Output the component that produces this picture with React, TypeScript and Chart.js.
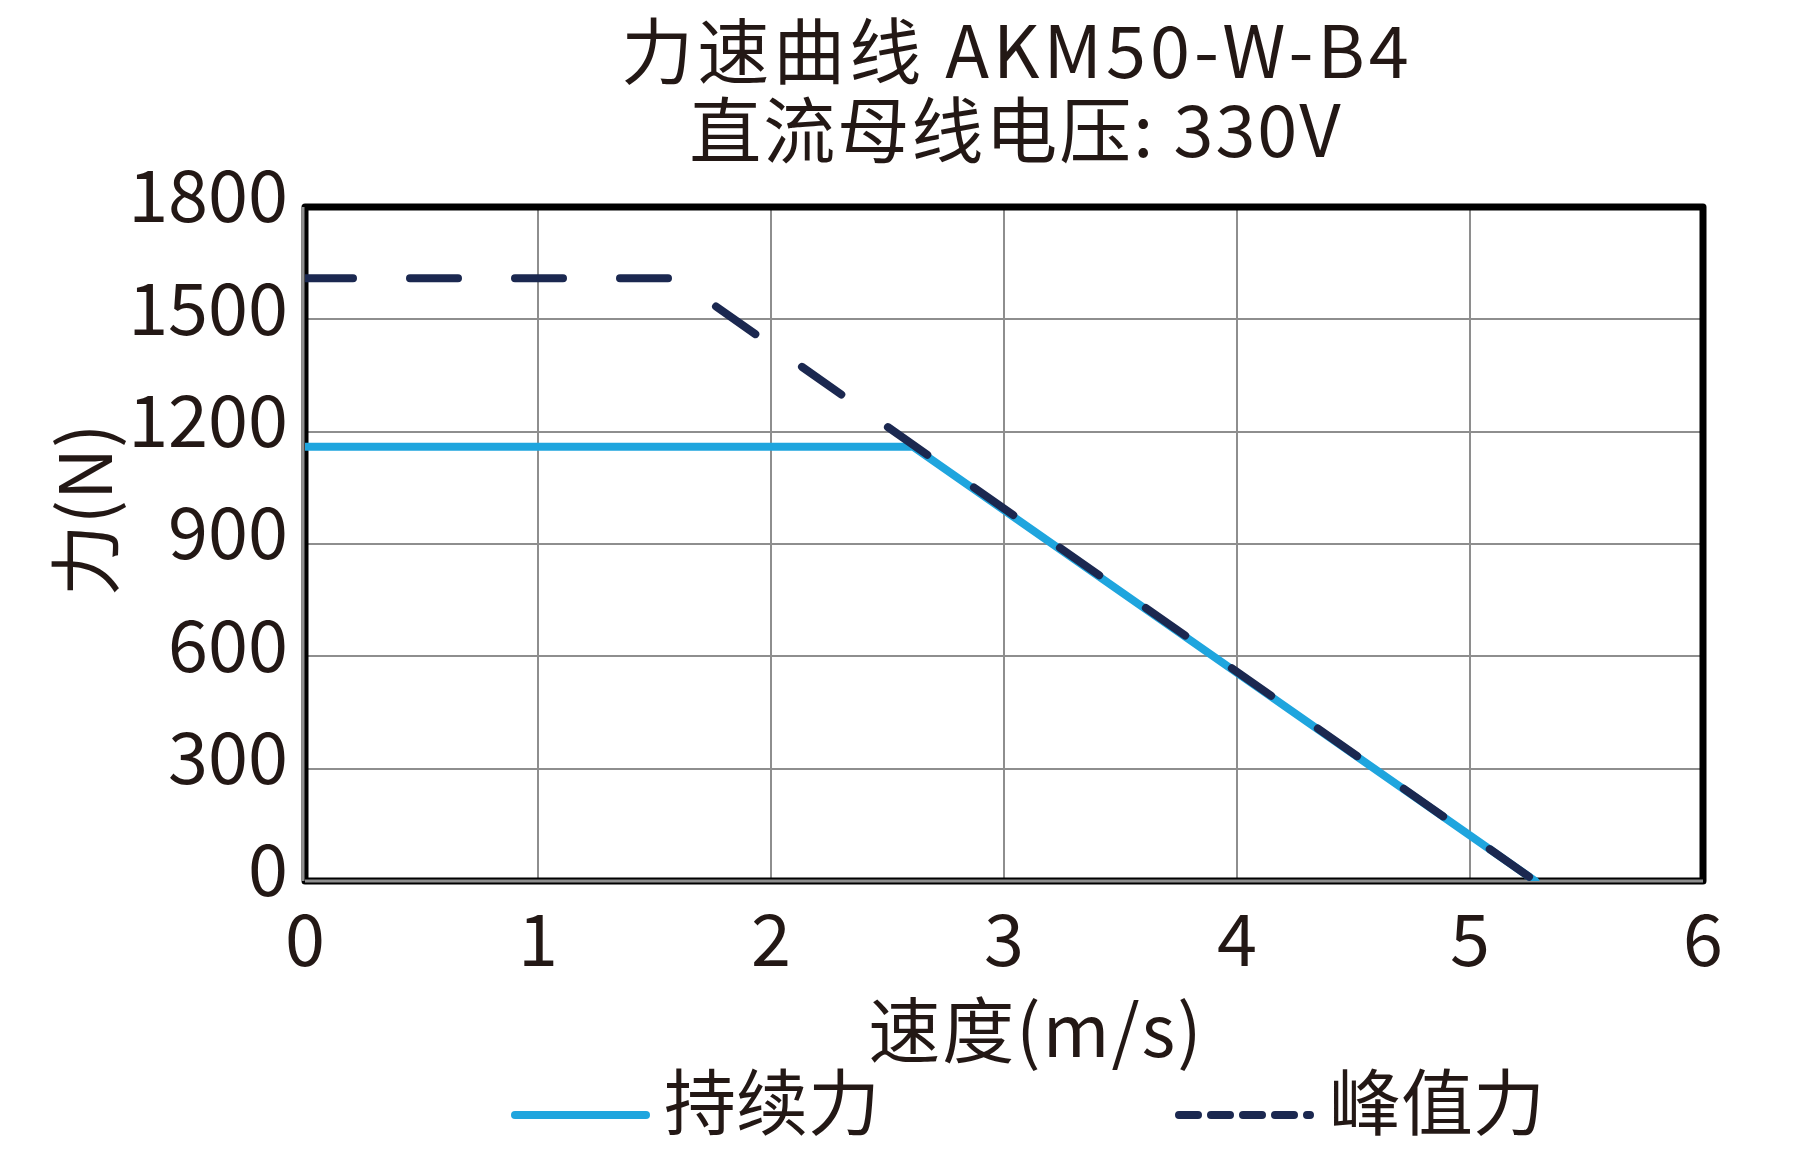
import React, { useEffect, useRef } from 'react';
import Chart from 'chart.js/auto';

// data
const continuousSpeed = [0, 2.61, 5.28];
const continuousForce = [1160, 1160, 0];
const peakSpeed = [0, 1.59, 5.28];
const peakForce = [1610, 1610, 0];
const seriesNames = ['持续力', '峰值力'];
const titleLines = ['力速曲线 AKM50-W-B4', '直流母线电压: 330V'];
const xTitle = '速度(m/s)';
const yTitle = '力(N)';

const FONT = '"Noto Sans CJK SC", "Noto Sans", sans-serif';
const TEXT = '#231815';
const BLUE = '#1fa5de';
const NAVY = '#1b2850';

const decorPlugin = {
  id: 'decor',
  beforeDatasetsDraw(chart: any) {
    const { ctx, chartArea } = chart;
    const { left, right, top, bottom } = chartArea;
    ctx.save();
    ctx.strokeStyle = '#000';
    ctx.lineWidth = 7;
    ctx.lineJoin = 'round';
    ctx.strokeRect(left, top, right - left, bottom - top);
    ctx.strokeStyle = '#8e8e8e';
    ctx.lineWidth = 3;
    ctx.beginPath();
    ctx.moveTo(left, bottom);
    ctx.lineTo(right, bottom);
    ctx.moveTo(left - 2, top);
    ctx.lineTo(left - 2, bottom);
    ctx.stroke();
    ctx.restore();
  },
  afterDraw(chart: any) {
    const { ctx } = chart;
    ctx.save();
    ctx.fillStyle = TEXT;
    ctx.font = `72px ${FONT}`;
    ctx.textAlign = 'center';
    ctx.textBaseline = 'middle';
    ctx.letterSpacing = '4px';
    ctx.fillText(titleLines[0], 1017, 51);
    ctx.letterSpacing = '2px';
    ctx.fillText(titleLines[1], 1016, 130);
    ctx.fillText(xTitle, 1036, 1030);

    ctx.letterSpacing = '0px';
    ctx.save();
    ctx.translate(85, 510);
    ctx.rotate(-Math.PI / 2);
    ctx.fillText(yTitle, 0, 0);
    ctx.restore();

    // legend
    ctx.lineCap = 'round';
    ctx.lineWidth = 8;
    ctx.strokeStyle = BLUE;
    ctx.setLineDash([]);
    ctx.beginPath();
    ctx.moveTo(515, 1115);
    ctx.lineTo(646, 1115);
    ctx.stroke();

    ctx.strokeStyle = NAVY;
    ctx.setLineDash([19, 13]);
    ctx.beginPath();
    ctx.moveTo(1179, 1115);
    ctx.lineTo(1310, 1115);
    ctx.stroke();
    ctx.setLineDash([]);

    ctx.textAlign = 'left';
    ctx.fillText(seriesNames[0], 664, 1102);
    ctx.fillText(seriesNames[1], 1329, 1102);
    ctx.restore();
  },
};

const App: React.FC = () => {
  const chartRef = useRef<HTMLCanvasElement>(null);
  const chartInstance = useRef<Chart | null>(null);

  useEffect(() => {
    if (!chartRef.current) return;
    if (chartInstance.current) chartInstance.current.destroy();
    const ctx = chartRef.current.getContext('2d');
    if (!ctx) return;

    chartInstance.current = new Chart(ctx, {
      type: 'line',
      data: {
        datasets: [
          {
            label: seriesNames[0],
            data: continuousSpeed.map((x, i) => ({ x, y: continuousForce[i] })),
            borderColor: BLUE,
            borderWidth: 8,
            borderCapStyle: 'round',
            pointRadius: 0,
            fill: false,
            order: 1,
          },
          {
            label: seriesNames[1],
            data: peakSpeed.map((x, i) => ({ x, y: peakForce[i] })),
            borderColor: NAVY,
            borderWidth: 8,
            borderDash: [48, 57],
            borderCapStyle: 'round',
            pointRadius: 0,
            fill: false,
            order: 0,
          },
        ],
      },
      plugins: [decorPlugin],
      options: {
        responsive: true,
        maintainAspectRatio: false,
        animation: false,
        devicePixelRatio: 1,
        layout: { padding: { left: 0, right: 101, top: 207, bottom: 0 } },
        plugins: {
          legend: { display: false },
          title: { display: false },
          tooltip: { enabled: false },
        },
        scales: {
          x: {
            type: 'linear',
            min: 0,
            max: 6,
            afterFit: (scale: any) => {
              scale.height = 285;
            },
            grid: { color: '#8e8e8e', lineWidth: 2, drawTicks: false },
            border: { display: false },
            ticks: {
              stepSize: 1,
              padding: 14,
              color: TEXT,
              font: { family: FONT, size: 72 },
              callback: (v: any) => String(v),
            },
          },
          y: {
            min: 0,
            max: 1800,
            afterFit: (scale: any) => {
              scale.width = 305;
            },
            grid: { color: '#8e8e8e', lineWidth: 2, drawTicks: false },
            border: { display: false },
            ticks: {
              stepSize: 300,
              padding: 17,
              labelOffset: -12,
              color: TEXT,
              font: { family: FONT, size: 72 },
              callback: (v: any) => String(v),
            },
          },
        },
      },
    });

    return () => {
      if (chartInstance.current) {
        chartInstance.current.destroy();
        chartInstance.current = null;
      }
    };
  }, []);

  return (
    <div style={{ position: 'fixed', left: 0, top: 0, width: '1804px', height: '1166px', background: '#fff' }}>
      <canvas ref={chartRef}></canvas>
    </div>
  );
};

export default App;
